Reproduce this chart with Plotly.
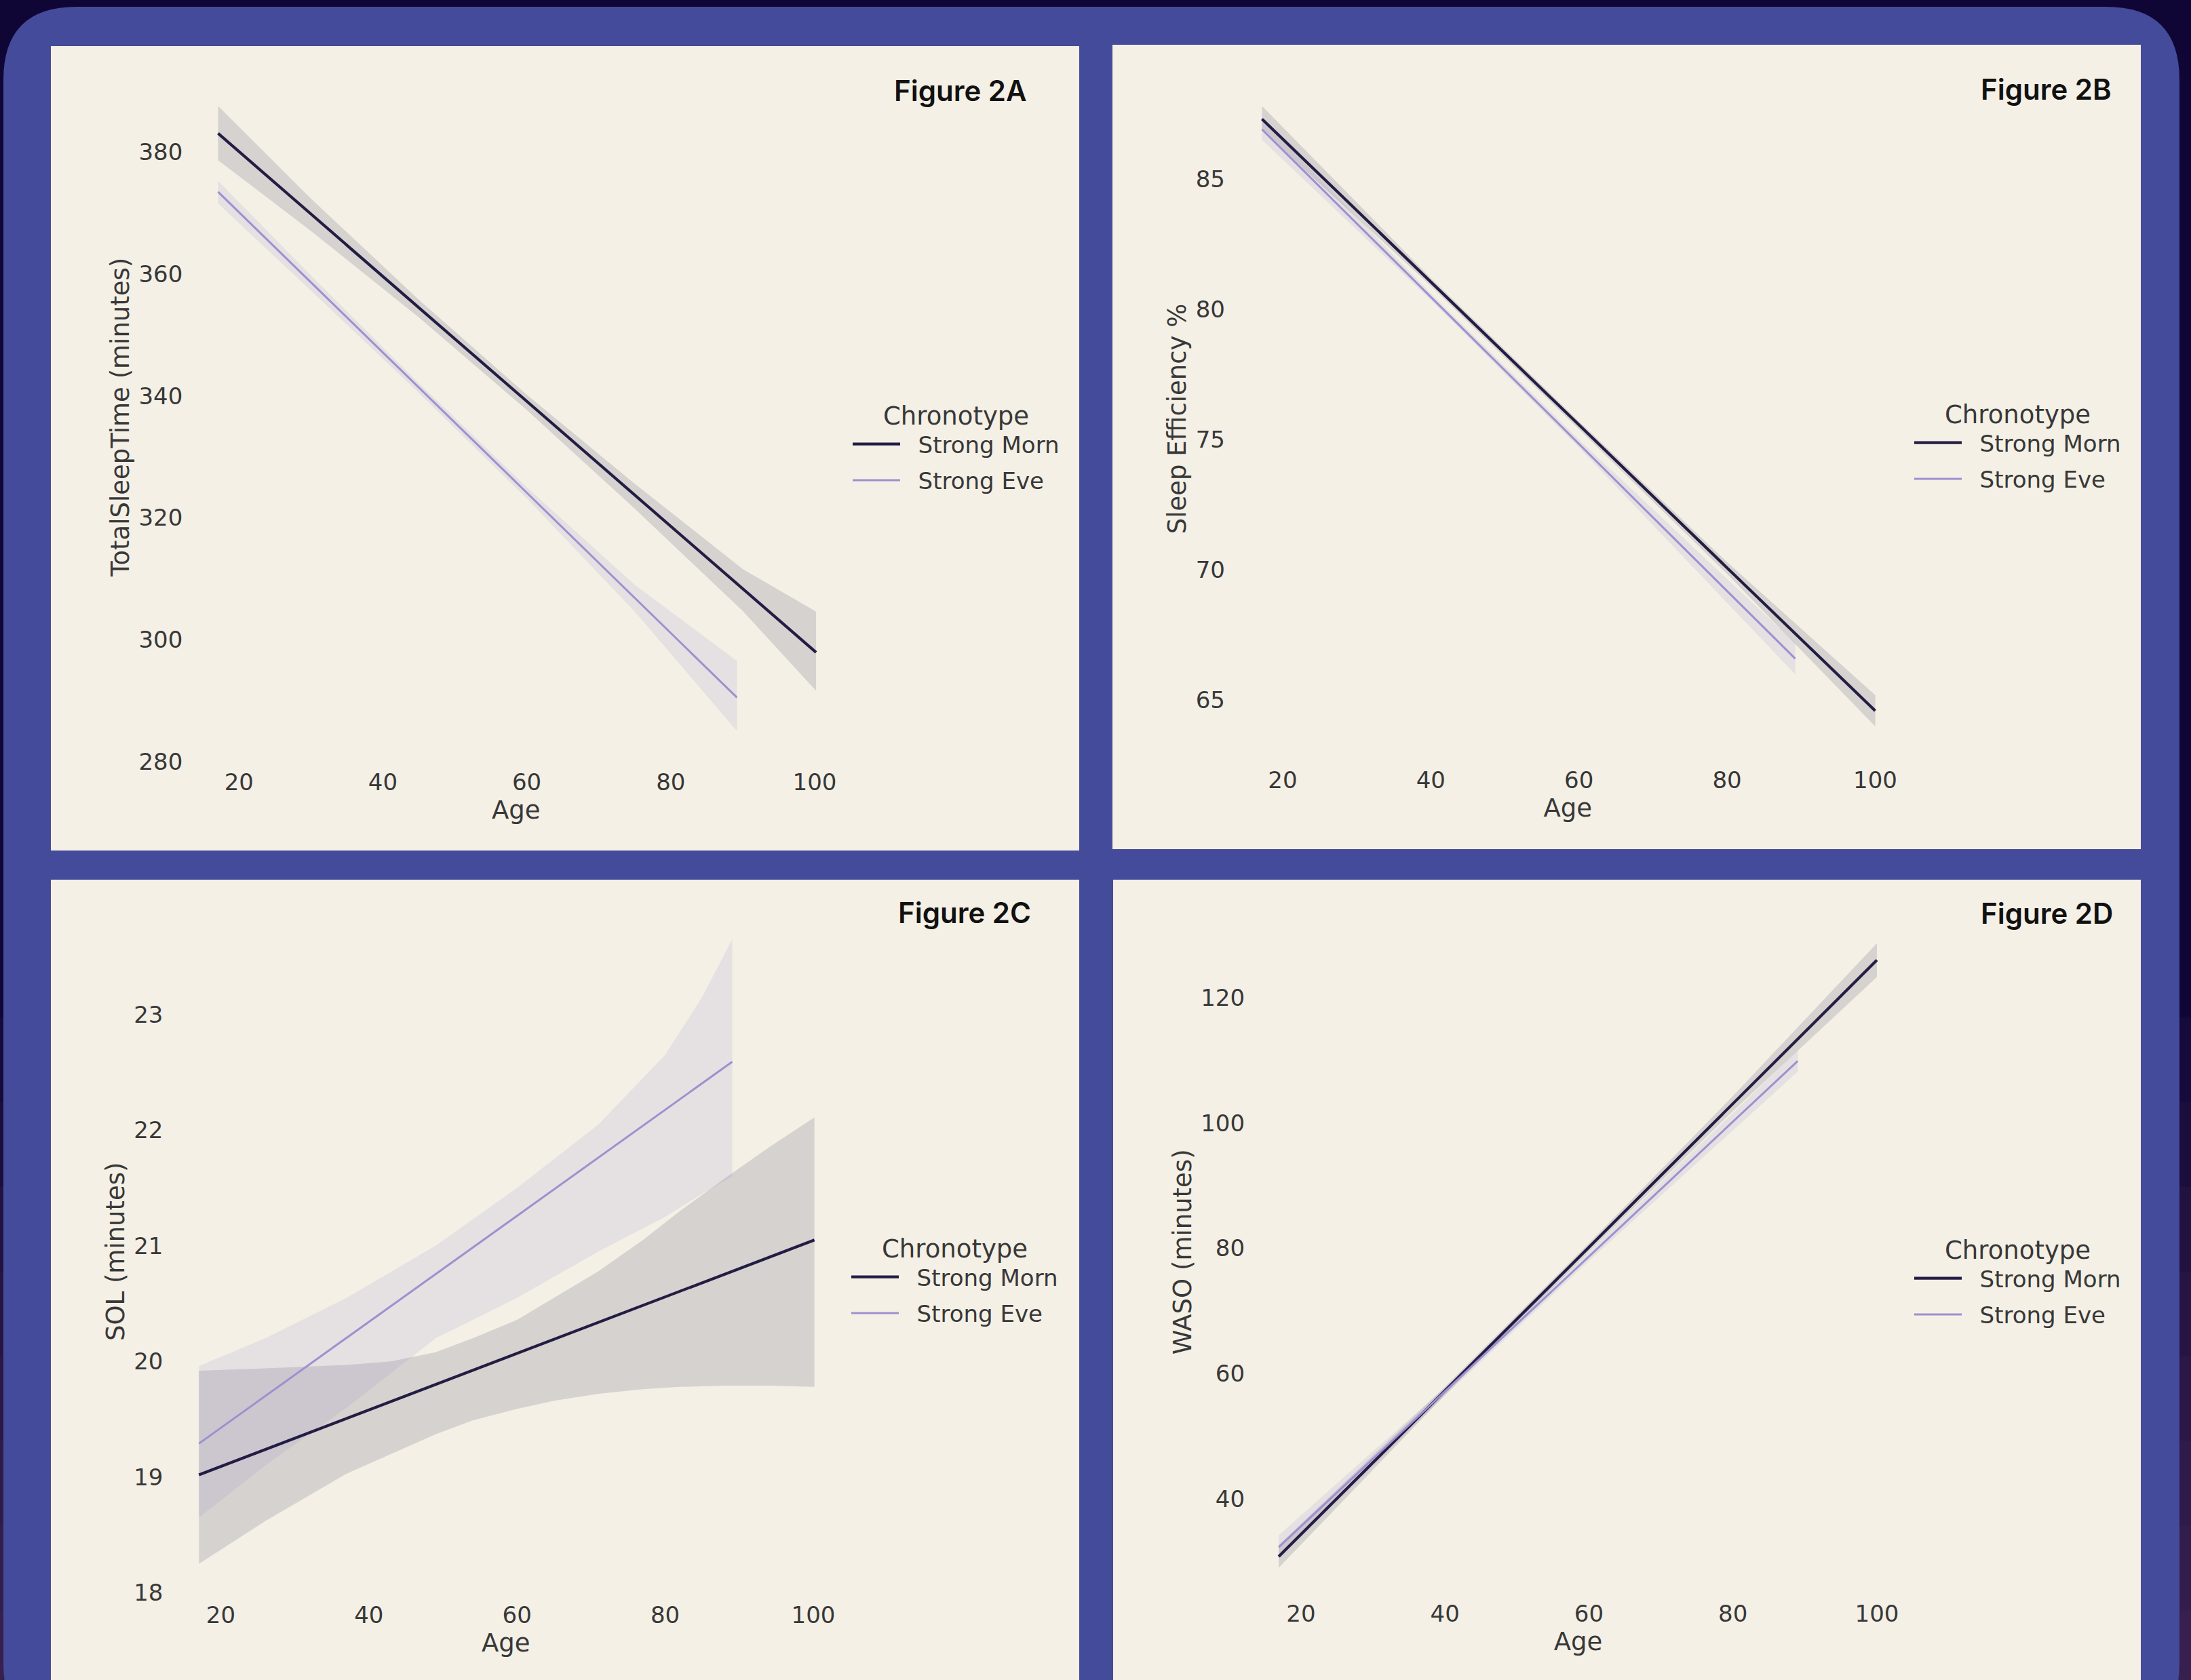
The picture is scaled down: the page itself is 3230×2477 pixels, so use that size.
import plotly.graph_objects as go

W, H = 3230, 2477

# ---------------- data ----------------
series_names = ["Strong Morn", "Strong Eve"]
age_ticks = [20, 40, 60, 80, 100]

# Figure 2A : TotalSleepTime (minutes)
a_yticks = [280, 300, 320, 340, 360, 380]
a_morn_age = [17.1, 100.2]
a_morn_val = [383.1, 297.9]
a_morn_band_age = [17.1, 30, 45, 60, 75, 90, 100.2]
a_morn_band_hi = [387.6, 372.4, 355.8, 340.2, 325.6, 311.6, 304.6]
a_morn_band_lo = [378.7, 367.1, 352.9, 337.7, 321.5, 304.7, 291.6]
a_eve_age = [17.1, 89.2]
a_eve_val = [373.5, 290.5]
a_eve_band_age = [17.1, 30, 45, 60, 75, 89.2]
a_eve_band_hi = [375.3, 359.8, 342.1, 325.0, 309.0, 296.5]
a_eve_band_lo = [371.6, 357.3, 340.5, 323.2, 304.6, 285.0]

# Figure 2B : Sleep Efficiency %
b_yticks = [65, 70, 75, 80, 85]
b_morn_age = [17.2, 100.0]
b_morn_val = [87.3, 64.6]
b_morn_band_age = [17.2, 40, 60, 80, 100.0]
b_morn_band_hi = [87.8, 81.2, 75.7, 70.3, 65.2]
b_morn_band_lo = [86.85, 80.9, 75.4, 69.85, 64.0]
b_eve_age = [17.2, 89.2]
b_eve_val = [86.9, 66.6]
b_eve_band_age = [17.2, 40, 60, 89.2]
b_eve_band_hi = [87.3, 80.6, 75.0, 67.2]
b_eve_band_lo = [86.5, 80.35, 74.7, 66.0]

# Figure 2C : SOL (minutes)
c_yticks = [18, 19, 20, 21, 22, 23]
c_morn_age = [17.05, 100.15]
c_morn_val = [19.02, 21.05]
c_morn_band_age = [17.05, 26, 37, 43, 49, 54, 60, 65, 71, 77, 82, 88, 94, 100.15]
c_morn_band_hi = [19.92, 19.94, 19.97, 20.0, 20.08, 20.2, 20.36, 20.55, 20.78, 21.05, 21.3, 21.58, 21.85, 22.11]
c_morn_band_lo = [18.25, 18.62, 19.03, 19.2, 19.37, 19.49, 19.59, 19.66, 19.72, 19.76, 19.78, 19.79, 19.79, 19.78]
c_eve_age = [17.05, 89.05]
c_eve_val = [19.29, 22.59]
c_eve_band_age = [17.05, 26, 37, 49, 60, 71, 80, 85, 89.05]
c_eve_band_hi = [19.96, 20.2, 20.55, 21.0, 21.5, 22.05, 22.65, 23.15, 23.65]
c_eve_band_lo = [18.65, 19.1, 19.6, 20.2, 20.55, 20.95, 21.25, 21.45, 21.6]

# Figure 2D : WASO (minutes)
d_yticks = [40, 60, 80, 100, 120]
d_morn_age = [16.9, 100.0]
d_morn_val = [30.8, 126.0]
d_morn_band_age = [16.9, 40, 60, 80, 100.0]
d_morn_band_hi = [32.6, 57.9, 80.8, 104.3, 128.7]
d_morn_band_lo = [29.0, 56.6, 79.5, 101.9, 123.3]
d_eve_age = [16.9, 89.0]
d_eve_val = [32.3, 109.9]
d_eve_band_age = [16.9, 40, 60, 89.0]
d_eve_band_hi = [34.2, 57.8, 79.4, 111.6]
d_eve_band_lo = [30.4, 56.5, 78.0, 108.2]

# ---------------- styling ----------------
MORN = "#231d44"
EVE = "#9e90cf"
MORN_BAND = "rgba(35,29,68,0.14)"
EVE_BAND = "rgba(158,144,207,0.16)"
BEIGE = "#F4F0E6"
BLUE = "#444B9A"
DARK = "#0F0636"
TXT = "#383838"
FONT = "DejaVu Sans"


def fx(px):
    return px / W


def fy(py):
    return 1 - py / H


panels = [
    dict(tag="A", ytitle="TotalSleepTime (minutes)", yticks=a_yticks,
         morn=(a_morn_age, a_morn_val, a_morn_band_age, a_morn_band_hi, a_morn_band_lo),
         eve=(a_eve_age, a_eve_val, a_eve_band_age, a_eve_band_hi, a_eve_band_lo),
         xd=(276.4, 1245), yd=(106, 1123.6), xr=(12.85, 104.15), yr=(279.9, 393.2),
         leg=(1252, 578), title=(1516, 134)),
    dict(tag="B", ytitle="Sleep Efficiency %", yticks=b_yticks,
         morn=(b_morn_age, b_morn_val, b_morn_band_age, b_morn_band_hi, b_morn_band_lo),
         eve=(b_eve_age, b_eve_val, b_eve_band_age, b_eve_band_hi, b_eve_band_lo),
         xd=(1812.9, 2809.8), yd=(113.9, 1121), xr=(12.85, 104.15), yr=(62.7, 88.9),
         leg=(2817, 576), title=(3115, 132)),
    dict(tag="C", ytitle="SOL (minutes)", yticks=c_yticks,
         morn=(c_morn_age, c_morn_val, c_morn_band_age, c_morn_band_hi, c_morn_band_lo),
         eve=(c_eve_age, c_eve_val, c_eve_band_age, c_eve_band_hi, c_eve_band_lo),
         xd=(247.4, 1244.3), yd=(1338.7, 2351.8), xr=(12.85, 104.15), yr=(17.98, 23.92),
         leg=(1250, 1806), title=(1522, 1345)),
    dict(tag="D", ytitle="WASO (minutes)", yticks=d_yticks,
         morn=(d_morn_age, d_morn_val, d_morn_band_age, d_morn_band_hi, d_morn_band_lo),
         eve=(d_eve_age, d_eve_val, d_eve_band_age, d_eve_band_hi, d_eve_band_lo),
         xd=(1842.1, 2811), yd=(1341.7, 2350), xr=(12.85, 104.15), yr=(24.84, 134),
         leg=(2817, 1808), title=(3117, 1347)),
]

fig = go.Figure()
layout = dict(
    width=W, height=H,
    margin=dict(l=0, r=0, t=0, b=0),
    paper_bgcolor=DARK,
    plot_bgcolor="rgba(0,0,0,0)",
    showlegend=True,
    shapes=[], annotations=[],
)

# background gradient toward the bottom (purplish)
for i in range(8):
    y0 = 1500 + i * 125
    layout["shapes"].append(dict(type="rect", xref="paper", yref="paper", layer="below",
                                 x0=0, x1=1, y0=fy(H), y1=fy(y0),
                                 fillcolor="rgba(120,70,110,0.07)", line=dict(width=0)))

# blue rounded card
r = 108
x0, x1, y0, y1 = 5, 3213, 10, 2560
path = (f"M {fx(x0)},{fy(y0 + r)} Q {fx(x0)},{fy(y0)} {fx(x0 + r)},{fy(y0)} "
        f"L {fx(x1 - r)},{fy(y0)} Q {fx(x1)},{fy(y0)} {fx(x1)},{fy(y0 + r)} "
        f"L {fx(x1)},{fy(y1 - r)} Q {fx(x1)},{fy(y1)} {fx(x1 - r)},{fy(y1)} "
        f"L {fx(x0 + r)},{fy(y1)} Q {fx(x0)},{fy(y1)} {fx(x0)},{fy(y1 - r)} Z")
layout["shapes"].append(dict(type="path", xref="paper", yref="paper", layer="below",
                             path=path, fillcolor=BLUE, line=dict(width=0)))

# beige panels
panel_boxes = [(75, 1591, 68, 1254), (1640, 3156, 66, 1252),
               (75, 1591, 1297, 2477), (1641, 3156, 1297, 2477)]
for (px0, px1, py0, py1) in panel_boxes:
    layout["shapes"].append(dict(type="rect", xref="paper", yref="paper", layer="below",
                                 x0=fx(px0), x1=fx(px1), y0=fy(py1), y1=fy(py0),
                                 fillcolor=BEIGE, line=dict(width=0)))

NBSP = "\u00a0\u00a0"
for i, p in enumerate(panels):
    n = "" if i == 0 else str(i + 1)
    xa, ya = "x" + n, "y" + n
    legname = "legend" + n
    specs = (("Strong Morn", p["morn"], MORN, MORN_BAND, 4.2),
             ("Strong Eve", p["eve"], EVE, EVE_BAND, 3.0))
    for name, data, col, band, lw in specs:
        age, val, bage, hi, lo = data
        fig.add_trace(go.Scatter(x=list(bage) + list(bage)[::-1], y=list(hi) + list(lo)[::-1],
                                 fill="toself", fillcolor=band, line=dict(width=0),
                                 mode="lines", hoverinfo="skip", showlegend=False,
                                 legendgroup=name + p["tag"],
                                 xaxis=xa, yaxis=ya))
    for name, data, col, band, lw in specs:
        age, val, bage, hi, lo = data
        fig.add_trace(go.Scatter(x=age, y=val, mode="lines", name=NBSP + name,
                                 line=dict(color=col, width=lw), legendgroup=name + p["tag"],
                                 xaxis=xa, yaxis=ya, legend=legname))

    layout["xaxis" + n] = dict(
        domain=[fx(p["xd"][0]), fx(p["xd"][1])], range=list(p["xr"]), anchor=ya,
        tickvals=age_ticks, showgrid=False, zeroline=False, showline=False,
        ticks="", ticklabelstandoff=6, automargin=False,
        tickfont=dict(family=FONT, size=34, color=TXT),
        title=dict(text="Age", font=dict(family=FONT, size=37, color=TXT), standoff=2),
    )
    layout["yaxis" + n] = dict(
        domain=[fy(p["yd"][1]), fy(p["yd"][0])], range=list(p["yr"]), anchor=xa,
        tickvals=p["yticks"], showgrid=False, zeroline=False, showline=False,
        ticks="", ticklabelstandoff=6, automargin=False,
        tickfont=dict(family=FONT, size=34, color=TXT),
        title=dict(text=p["ytitle"], font=dict(family=FONT, size=37, color=TXT), standoff=2),
    )
    layout[legname] = dict(
        x=fx(p["leg"][0]), y=fy(p["leg"][1]), xanchor="left", yanchor="top",
        bgcolor="rgba(0,0,0,0)", itemwidth=70, tracegroupgap=6,
        font=dict(family=FONT, size=34, color=TXT),
        title=dict(text="Chronotype", side="top center", font=dict(family=FONT, size=37, color=TXT)),
    )
    layout["annotations"].append(dict(
        text="Figure 2" + p["tag"], xref="paper", yref="paper",
        x=fx(p["title"][0]), y=fy(p["title"][1]), xanchor="right", yanchor="middle",
        showarrow=False, font=dict(family="Inter", size=42, color="#111111", weight=600)))

fig.update_layout(**layout)
fig.write_html("out.html", config={"displayModeBar": False},
               post_script="document.body.style.margin='0';document.body.style.overflow='hidden';")
